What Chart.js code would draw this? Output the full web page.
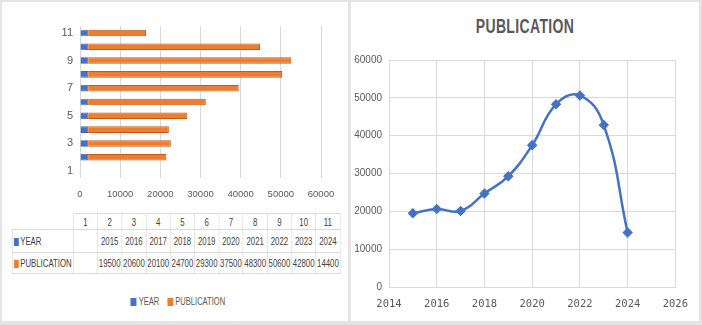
<!DOCTYPE html>
<html>
<head>
<meta charset="utf-8">
<script src="https://cdn.jsdelivr.net/npm/chart.js@4/dist/chart.umd.min.js"></script>
<style>
  html, body { margin: 0; padding: 0; }
  body { width: 702px; height: 325px; background: #e4e4e4; position: relative; overflow: hidden;
         font-family: "Liberation Sans", Arial, sans-serif; color: #595959; }
  .panel { position: absolute; background: #fff; }
  #left { left: 2px; top: 2px; width: 346px; height: 319px; }
  #right { left: 351px; top: 2px; width: 348px; height: 319px; }
  canvas { position: absolute; left: 0; }
  #barChart { top: 2px; }
  #lineChart { top: 0; }
  /* Excel draws these in a condensed face; squeeze horizontally to match */
  #dataTable { position: absolute; left: 10px; top: 211px; border-collapse: collapse; table-layout: fixed;
               width: 482px; font-size: 11.5px; color: #404040; transform: scaleX(0.68); transform-origin: 0 0; }
  #dataTable td { border: 1px solid #d9d9d9; text-align: center; padding: 0; white-space: nowrap; overflow: hidden; }
  #dataTable tr.head td { height: 15px; }
  #dataTable tr.head td.blank { border-top: none; border-left: none; }
  #dataTable tr.r1 td { height: 22px; }
  #dataTable tr.r2 td { height: 20px; }
  #dataTable td.lbl { text-align: left; padding-left: 2px; }
  .key { display: inline-block; width: 7px; height: 8px; margin-right: 2px; vertical-align: -1px; }
  #legend { position: absolute; left: 0; width: 352px; top: 293px; text-align: center; font-size: 11.5px; color: #595959;
            transform: scaleX(0.66); transform-origin: 176px 0; white-space: nowrap; }
  #legend .key { width: 9px; height: 8px; margin-right: 3px; }
  #legend span.item { margin: 0 6px; }
  #title { position: absolute; left: 0; width: 348px; top: 13px; text-align: center;
           font-size: 20px; font-weight: bold; letter-spacing: 0.5px; color: #595959;
           transform: scaleX(0.7); transform-origin: 174px 0; }
</style>
</head>
<body>
<div class="panel" id="left">
  <canvas id="barChart" width="346" height="203"></canvas>
  <table id="dataTable"></table>
  <div id="legend"></div>
</div>
<div class="panel" id="right">
  <div id="title">PUBLICATION</div>
  <canvas id="lineChart" width="348" height="319"></canvas>
</div>
<script>
const categories = ['1', '2', '3', '4', '5', '6', '7', '8', '9', '10', '11'];
const years = [2015, 2016, 2017, 2018, 2019, 2020, 2021, 2022, 2023, 2024];
const publications = [19500, 20600, 20100, 24700, 29300, 37500, 48300, 50600, 42800, 14400];
const valueTicks = [0, 10000, 20000, 30000, 40000, 50000, 60000];
const yearTicks = [2014, 2016, 2018, 2020, 2022, 2024, 2026];

const BLUE = '#4472C4';
const ORANGE = '#ED7D31';
const GRID = '#d9d9d9';
const TXT = '#595959';
const sans = '"Liberation Sans", Arial, sans-serif';

Chart.defaults.animation = false;
Chart.defaults.responsive = false;
Chart.defaults.color = TXT;

// category 1 has no values in the source sheet
const yearSeries = [null, ...years];
const pubSeries = [null, ...publications];

new Chart(document.getElementById('barChart'), {
    type: 'bar',
    data: {
        labels: categories,
        datasets: [
            { label: 'YEAR', data: yearSeries, backgroundColor: BLUE, borderColor: '#3A62AC', borderWidth: 0.8,
              barPercentage: 0.5, categoryPercentage: 0.95 },
            { label: 'PUBLICATION', data: pubSeries, backgroundColor: ORANGE, borderColor: '#C55A11', borderWidth: 1,
              barPercentage: 0.5, categoryPercentage: 0.95 }
        ]
    },
    options: {
        indexAxis: 'y',
        layout: { padding: { top: 22, right: 27, left: 0, bottom: 0 } },
        plugins: { legend: { display: false }, tooltip: { enabled: false } },
        scales: {
            x: {
                stacked: true, min: 0, max: 60000,
                afterBuildTicks: s => { s.ticks = valueTicks.map(v => ({ value: v })); },
                afterFit: s => { s.height = 29; },
                grid: { color: GRID, drawTicks: false },
                border: { display: false },
                ticks: { padding: 11, font: { family: sans, size: 9.5 }, callback: v => String(v) }
            },
            y: {
                stacked: true, reverse: true,
                afterFit: s => { s.width = 78; },
                grid: { display: false, drawTicks: false },
                border: { display: false },
                ticks: { padding: 7, autoSkip: false, font: { family: sans, size: 11 },
                         callback: (v, i) => i % 2 === 0 ? categories[i] : '' }
            }
        }
    }
});

// data table under the bar chart
const table = document.getElementById('dataTable');
let html = '<colgroup><col style="width:89.7px">' + categories.map(() => '<col style="width:35.66px">').join('') + '</colgroup>';
html += '<tr class="head"><td class="blank"></td>' + categories.map(c => `<td>${c}</td>`).join('') + '</tr>';
html += `<tr class="r1"><td class="lbl"><span class="key" style="background:${BLUE}"></span>YEAR</td>` +
        yearSeries.map(v => `<td>${v ?? ''}</td>`).join('') + '</tr>';
html += `<tr class="r2"><td class="lbl"><span class="key" style="background:${ORANGE}"></span>PUBLICATION</td>` +
        pubSeries.map(v => `<td>${v ?? ''}</td>`).join('') + '</tr>';
table.innerHTML = html;

document.getElementById('legend').innerHTML =
    `<span class="item"><span class="key" style="background:${BLUE}"></span>YEAR</span>` +
    `<span class="item"><span class="key" style="background:${ORANGE}"></span>PUBLICATION</span>`;

// PUBLICATION trend
new Chart(document.getElementById('lineChart'), {
    type: 'line',
    data: {
        datasets: [{
            label: 'PUBLICATION',
            data: years.map((y, i) => ({ x: y, y: publications[i] })),
            borderColor: BLUE, backgroundColor: BLUE,
            borderWidth: 2.5, tension: 0.45,
            pointStyle: 'rectRot', pointRadius: 3.5, pointBackgroundColor: BLUE, pointBorderColor: BLUE
        }]
    },
    options: {
        layout: { padding: { top: 58, right: 18, left: 0, bottom: 0 } },
        plugins: { legend: { display: false }, tooltip: { enabled: false } },
        scales: {
            x: {
                type: 'linear', min: 2014, max: 2026,
                afterBuildTicks: s => { s.ticks = yearTicks.map(v => ({ value: v })); },
                afterFit: s => { s.height = 34; },
                grid: { color: GRID, drawTicks: false },
                border: { color: GRID },
                ticks: { padding: 11, font: { family: '"DejaVu Sans Mono", monospace', size: 10.5 }, callback: v => String(v) }
            },
            y: {
                min: 0, max: 60000,
                afterBuildTicks: s => { s.ticks = valueTicks.map(v => ({ value: v })); },
                afterFit: s => { s.width = 38; },
                grid: { color: GRID, drawTicks: false },
                border: { color: GRID },
                ticks: { padding: 7, font: { family: sans, size: 10 }, callback: v => String(v) }
            }
        }
    }
});
</script>
</body>
</html>
